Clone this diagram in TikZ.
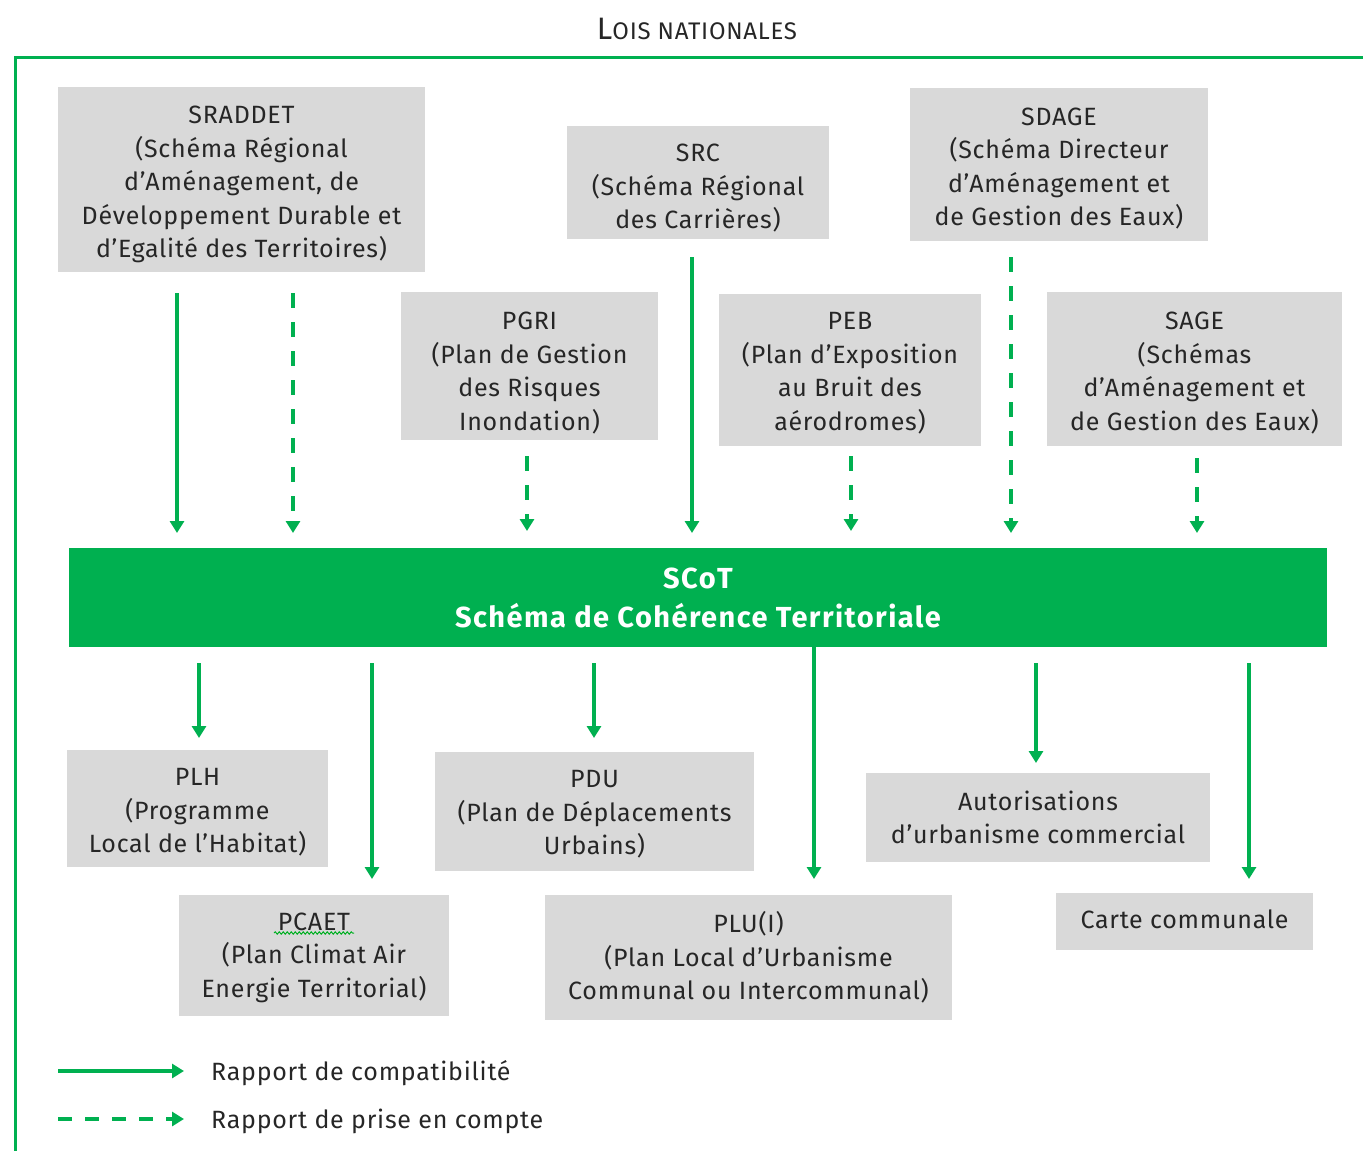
\documentclass[tikz,border=0pt]{standalone}
\usepackage{fontspec}
\setmainfont{Fira Sans}[LetterSpace=3]
\usetikzlibrary{arrows.meta,decorations.pathmorphing}
\definecolor{vert}{HTML}{00B050}
\definecolor{gris}{HTML}{D9D9D9}
\definecolor{txt}{HTML}{262626}
\tikzset{
  boite/.style={fill=gris, draw=none, inner sep=0pt},
  lbl/.style={inner sep=0pt, align=center, text=txt, font=\fontsize{25}{33.5}\selectfont},
  fcomp/.style={draw=vert, line width=3.5pt, -{Triangle[width=14pt,length=12pt]}},
  fprise/.style={fcomp, dash pattern=on 15pt off 14pt},
  leg/.style={anchor=west, inner sep=0pt, text=txt, font=\fontsize{25}{30}\selectfont},
}
\begin{document}
\begin{tikzpicture}[x=1pt,y=-1pt]
\useasboundingbox (0,0) rectangle (1363,1151);
% title and frame
\node[text=txt, inner sep=0pt, font=\fontsize{31}{34}\selectfont] (titre) at (697,29) {L{\fontsize{24}{26}\selectfont OIS NATIONALES}};
\draw[vert, line width=3pt] (15,1151) -- (15,57) -- (1363,57);

% top boxes
\node[boite, minimum width=367pt, minimum height=185pt,
  label={[lbl, yshift=-5pt]center:{SRADDET\\(Schéma Régional\\d’Aménagement, de\\Développement Durable et\\d’Egalité des Territoires)}}]
  (sraddet) at (241.5,179.5) {};
\node[boite, minimum width=262pt, minimum height=113pt,
  label={[lbl, yshift=-6pt]center:{SRC\\(Schéma Régional\\des Carrières)}}]
  (src) at (698,182.5) {};
\node[boite, minimum width=298pt, minimum height=153pt,
  label={[lbl, yshift=-4pt]center:{SDAGE\\(Schéma Directeur\\d’Aménagement et\\de Gestion des Eaux)}}]
  (sdage) at (1059,164.5) {};
\node[boite, minimum width=257pt, minimum height=148pt,
  label={[lbl, yshift=-7pt]center:{PGRI\\(Plan de Gestion\\des Risques\\Inondation)}}]
  (pgri) at (529.5,366) {};
\node[boite, minimum width=262pt, minimum height=152pt,
  label={[lbl, yshift=-3pt]center:{PEB\\(Plan d’Exposition\\au Bruit des\\aérodromes)}}]
  (peb) at (850,370) {};
\node[boite, minimum width=295pt, minimum height=154pt,
  label={[lbl, yshift=-4pt]center:{SAGE\\(Schémas\\d’Aménagement et\\de Gestion des Eaux)}}]
  (sage) at (1194.5,369) {};

% SCoT bar
\node[fill=vert, minimum width=1258pt, minimum height=99pt, inner sep=0pt, align=center,
  text=white, font=\addfontfeatures{LetterSpace=5}\bfseries\fontsize{29}{39}\selectfont] (scot) at (698,597.5)
  {SCoT\\Schéma de Cohérence Territoriale};

% bottom boxes
\node[boite, minimum width=261pt, minimum height=117pt,
  label={[lbl, yshift=-4pt]center:{PLH\\(Programme\\Local de l’Habitat)}}]
  (plh) at (197.5,808.5) {};
\node[boite, minimum width=319pt, minimum height=119pt,
  label={[lbl, yshift=-3pt]center:{PDU\\(Plan de Déplacements\\Urbains)}}]
  (pdu) at (594.5,811.5) {};
\node[boite, minimum width=344pt, minimum height=89pt,
  label={[lbl]center:{Autorisations\\d’urbanisme commercial}}]
  (autor) at (1038,817.5) {};
\node[boite, minimum width=270pt, minimum height=121pt,
  label={[lbl, yshift=-2pt]center:{PCAET\\(Plan Climat Air\\Energie Territorial)}}]
  (pcaet) at (314,955.5) {};
\node[boite, minimum width=407pt, minimum height=125pt,
  label={[lbl]center:{PLU(I)\\(Plan Local d’Urbanisme\\Communal ou Intercommunal)}}]
  (plu) at (748.5,957.5) {};
\node[boite, minimum width=257pt, minimum height=57pt,
  label={[lbl, yshift=2pt]center:{Carte communale}}]
  (carte) at (1184.5,921.5) {};

% spell-check underline under PCAET
\coordinate (sq1) at (274,933); \coordinate (sq2) at (354,933);
\draw[vert!70!black!60!green, line width=1pt, decorate,
  decoration={snake, amplitude=1.2pt, segment length=4pt}] (sq1) -- (sq2);

% arrow coordinates
\coordinate (t1a) at (177,293);  \coordinate (t1b) at (177,533);
\coordinate (t2a) at (293,293);  \coordinate (t2b) at (293,533);
\coordinate (t3a) at (527,456);  \coordinate (t3b) at (527,531);
\coordinate (t4a) at (692,257);  \coordinate (t4b) at (692,533);
\coordinate (t5a) at (851,456);  \coordinate (t5b) at (851,531);
\coordinate (t6a) at (1011,257); \coordinate (t6b) at (1011,533);
\coordinate (t7a) at (1197,458); \coordinate (t7b) at (1197,533);

\coordinate (b1a) at (199,663);  \coordinate (b1b) at (199,738);
\coordinate (b2a) at (372,663);  \coordinate (b2b) at (372,879);
\coordinate (b3a) at (594,663);  \coordinate (b3b) at (594,738);
\coordinate (b4a) at (814,647);  \coordinate (b4b) at (814,879);
\coordinate (b5a) at (1036,663); \coordinate (b5b) at (1036,763);
\coordinate (b6a) at (1249,663); \coordinate (b6b) at (1249,879);

\draw[fcomp]  (t1a) -- (t1b);
\draw[fprise] (t2a) -- (t2b);
\draw[fprise] (t3a) -- (t3b);
\draw[fcomp]  (t4a) -- (t4b);
\draw[fprise] (t5a) -- (t5b);
\draw[fprise] (t6a) -- (t6b);
\draw[fprise] (t7a) -- (t7b);

\draw[fcomp] (b1a) -- (b1b);
\draw[fcomp] (b2a) -- (b2b);
\draw[fcomp] (b3a) -- (b3b);
\draw[fcomp] (b4a) -- (b4b);
\draw[fcomp] (b5a) -- (b5b);
\draw[fcomp] (b6a) -- (b6b);

% legend
\coordinate (l1a) at (58,1071);  \coordinate (l1b) at (184,1071);
\coordinate (l2a) at (58,1119);  \coordinate (l2b) at (184,1119);
\draw[fcomp] (l1a) -- (l1b);
\draw[fcomp, dash pattern=on 14pt off 13pt] (l2a) -- (l2b);
\node[leg] (leg1) at (211,1073) {Rapport de compatibilité};
\node[leg] (leg2) at (211,1121) {Rapport de prise en compte};
\end{tikzpicture}
\end{document}
